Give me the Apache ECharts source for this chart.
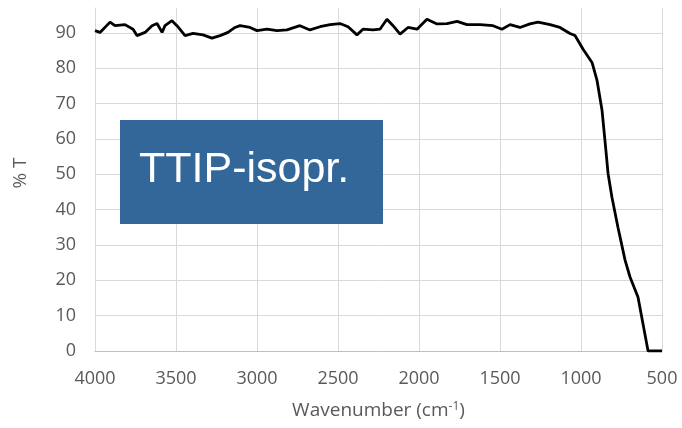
<!DOCTYPE html>
<html>
<head>
<meta charset="utf-8">
<script src="https://cdn.jsdelivr.net/npm/echarts@6/dist/echarts.min.js"></script>
<style>
  html, body { margin: 0; padding: 0; background: #fff; }
  #chart { width: 682px; height: 428px; }
</style>
</head>
<body>
<div id="chart"></div>
<script>
// FTIR transmittance
const wavenumbers = [
    4000, 3969, 3907, 3877, 3815, 3765, 3741, 3691, 3648, 3617, 3586, 3568, 3525, 3494,
    3444, 3395, 3333, 3278, 3228, 3179, 3136, 3105, 3043, 3000, 2938, 2877, 2815, 2735,
    2673, 2611, 2549, 2488, 2438, 2383, 2346, 2284, 2241, 2198, 2160, 2117, 2068, 2012,
    1951, 1889, 1827, 1765, 1704, 1623, 1543, 1488, 1438, 1377, 1315, 1265, 1191, 1130,
    1068, 1037, 988, 932, 901, 870, 852, 833, 809, 772, 728, 698, 648, 586, 500,
];
const transmittance = [
    90.6, 90.1, 93.0, 92.0, 92.3, 91.0, 89.2, 90.1, 92.0, 92.6, 90.1, 92.0, 93.4, 92.0,
    89.2, 89.8, 89.4, 88.5, 89.2, 90.1, 91.5, 92.0, 91.5, 90.6, 91.0, 90.6, 90.8, 92.0,
    90.8, 91.7, 92.3, 92.6, 91.7, 89.4, 91.0, 90.8, 91.0, 93.8, 92.0, 89.6, 91.5, 91.0,
    93.8, 92.5, 92.6, 93.2, 92.3, 92.3, 92.0, 91.0, 92.3, 91.5, 92.5, 93.0, 92.3, 91.5,
    89.8, 89.2, 85.4, 81.6, 76.5, 68.0, 59.5, 50.2, 43.5, 35.0, 25.7, 21.0, 15.2, 0, 0,
];
const xTicks = { min: 500, max: 4000, step: 500 };
const yTicks = { min: 0, max: 97, step: 10 };

const labelColor = '#595959';
const gridColor = '#d9d9d9';
const font = '"Open Sans", sans-serif';

const chart = echarts.init(document.getElementById('chart'), null, { renderer: 'canvas' });

chart.setOption({
    animation: false,
    backgroundColor: '#fff',
    textStyle: { fontFamily: font },
    grid: { left: 95, right: 20, top: 8, bottom: 77, containLabel: false },
    xAxis: {
        type: 'value',
        inverse: true,
        min: xTicks.min,
        max: xTicks.max,
        interval: xTicks.step,
        name: 'Wavenumber (cm{sup|-1})',
        nameLocation: 'middle',
        nameGap: 50,
        nameTextStyle: {
            color: labelColor,
            fontSize: 19,
            fontFamily: font,
            rich: { sup: { fontSize: 12, verticalAlign: 'top', padding: [0, 0, 8, 0], color: labelColor } },
        },
        axisLine: { show: true, lineStyle: { color: '#bfbfbf', width: 1 } },
        axisTick: { show: false },
        axisLabel: { color: labelColor, fontSize: 18, margin: 19, fontFamily: font, formatter: (v) => String(v) },
        splitLine: { show: true, lineStyle: { color: gridColor, width: 1 } },
    },
    yAxis: {
        type: 'value',
        min: yTicks.min,
        max: yTicks.max,
        interval: yTicks.step,
        axisLine: { show: true, lineStyle: { color: gridColor, width: 1 } },
        axisTick: { show: false },
        axisLabel: {
            color: labelColor,
            fontSize: 18,
            margin: 19,
            fontFamily: font,
            showMaxLabel: false,
            formatter: (v) => (v % 10 === 0 ? String(v) : ''),
        },
        splitLine: { show: true, showMaxLine: false, lineStyle: { color: gridColor, width: 1 } },
    },
    series: [
        {
            type: 'line',
            showSymbol: false,
            smooth: false,
            lineStyle: { color: '#000', width: 2.8 },
            data: wavenumbers.map((w, i) => [w, transmittance[i]]),
        },
    ],
    graphic: [
        {
            type: 'text',
            x: 21,
            y: 173,
            rotation: Math.PI / 2,
            style: {
                text: '% T',
                fill: labelColor,
                fontSize: 19,
                fontFamily: font,
                align: 'center',
                verticalAlign: 'middle',
            },
        },
        {
            type: 'rect',
            left: 120,
            top: 120,
            shape: { width: 263, height: 104 },
            style: { fill: '#336699' },
            z: 10,
        },
        {
            type: 'text',
            x: 139,
            y: 170,
            style: {
                text: 'TTIP-isopr.',
                fill: '#fff',
                fontSize: 43,
                fontFamily: '"Liberation Sans", Arial, sans-serif',
                verticalAlign: 'middle',
            },
            z: 11,
        },
    ],
});
</script>
</body>
</html>
